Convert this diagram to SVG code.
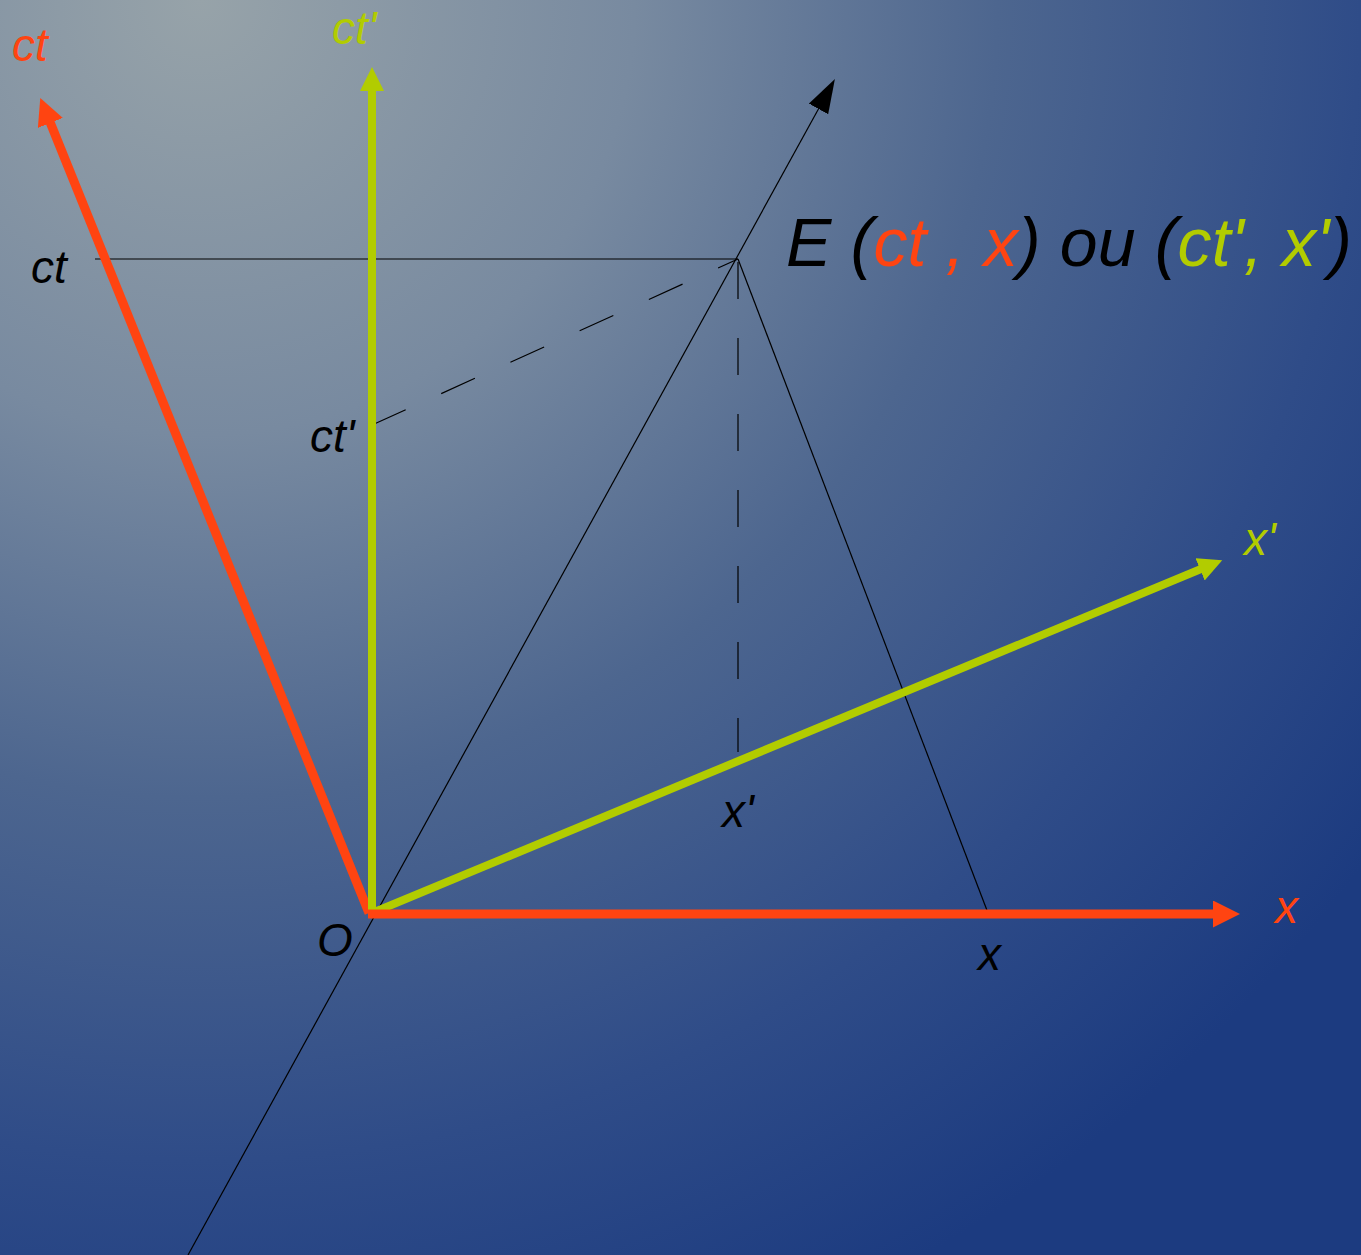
<svg xmlns="http://www.w3.org/2000/svg" width="1361" height="1255" viewBox="0 0 1361 1255">
  <defs>
    <radialGradient id="bg" gradientUnits="userSpaceOnUse" cx="200" cy="0" r="1450">
      <stop offset="0" stop-color="#97a3a9"/>
      <stop offset="0.3" stop-color="#788aa0"/>
      <stop offset="0.55" stop-color="#4d668f"/>
      <stop offset="0.8" stop-color="#2f4c88"/>
      <stop offset="1" stop-color="#1c3b80"/>
    </radialGradient>
    <marker id="arRed" markerUnits="userSpaceOnUse" markerWidth="28" markerHeight="28" refX="1" refY="13.5" orient="auto">
      <path d="M0,0 L27,13.5 L0,27 z" fill="#ff4411"/>
    </marker>
    <marker id="arGreen" markerUnits="userSpaceOnUse" markerWidth="26" markerHeight="26" refX="1" refY="12" orient="auto">
      <path d="M0,0 L24,12 L0,24 z" fill="#b2cc00"/>
    </marker>
    <marker id="arBlack" markerUnits="userSpaceOnUse" markerWidth="36" markerHeight="24" refX="1" refY="11" orient="auto">
      <path d="M0,0 L34,11 L0,22 z" fill="#000"/>
    </marker>
  </defs>
  <style>
    .lbl { font-family: "Liberation Sans", Arial, sans-serif; font-style: italic; font-size: 46px; }
    .red { fill: #ff4411; }
    .green { fill: #b2cc00; }
    .blk { fill: #000; }
    .thin { stroke: #000; stroke-width: 1.2; fill: none; }
    .dash { stroke: #000; stroke-width: 1.2; fill: none; stroke-dasharray: 37 39; }
    .axRed { stroke: #ff4411; stroke-width: 9; fill: none; }
    .axGreen { stroke: #b2cc00; stroke-width: 8; fill: none; }
  </style>
  <rect x="0" y="0" width="1361" height="1255" fill="url(#bg)"/>

  <g id="connectors">
    <line id="worldline" class="thin" x1="188" y1="1255" x2="819" y2="108" marker-end="url(#arBlack)"/>
    <line id="proj-ct" class="thin" x1="95" y1="259" x2="738" y2="259"/>
    <line id="proj-x" class="thin" x1="738" y1="259" x2="988" y2="913"/>
    <line id="proj-ctp" class="dash" x1="372" y1="425" x2="738" y2="259"/>
    <line id="proj-xp" class="dash" x1="738" y1="262" x2="738" y2="752"/>
    <line id="axis-ct" class="axRed" x1="369" y1="913" x2="50" y2="122" marker-end="url(#arRed)"/>
    <line id="axis-ctp" class="axGreen" x1="372" y1="913" x2="372" y2="90" marker-end="url(#arGreen)"/>
    <line id="axis-xp" class="axGreen" x1="372" y1="913" x2="1201" y2="569" marker-end="url(#arGreen)"/>
    <line id="axis-x" class="axRed" x1="368" y1="914" x2="1214" y2="914" marker-end="url(#arRed)"/>
  </g>

  <g id="label-ct-axis"><text class="lbl red" x="12" y="61">ct</text></g>
  <g id="label-ctp-axis"><text class="lbl green" x="332" y="44">ct'</text></g>
  <g id="label-ct"><text class="lbl blk" x="31" y="283">ct</text></g>
  <g id="label-ctp"><text class="lbl blk" x="310" y="452">ct'</text></g>
  <g id="label-xp-axis"><text class="lbl green" x="1244" y="555">x'</text></g>
  <g id="label-xp"><text class="lbl blk" x="722" y="827">x'</text></g>
  <g id="label-O"><text class="lbl blk" x="317" y="956">O</text></g>
  <g id="label-x"><text class="lbl blk" x="978" y="970">x</text></g>
  <g id="label-x-axis"><text class="lbl red" x="1275" y="923">x</text></g>
  <g id="event-E">
    <text class="lbl blk" x="786" y="266" style="font-size:68px" textLength="566" lengthAdjust="spacing">E (<tspan class="red">ct , x</tspan>) ou (<tspan class="green">ct', x'</tspan>)</text>
  </g>
</svg>
